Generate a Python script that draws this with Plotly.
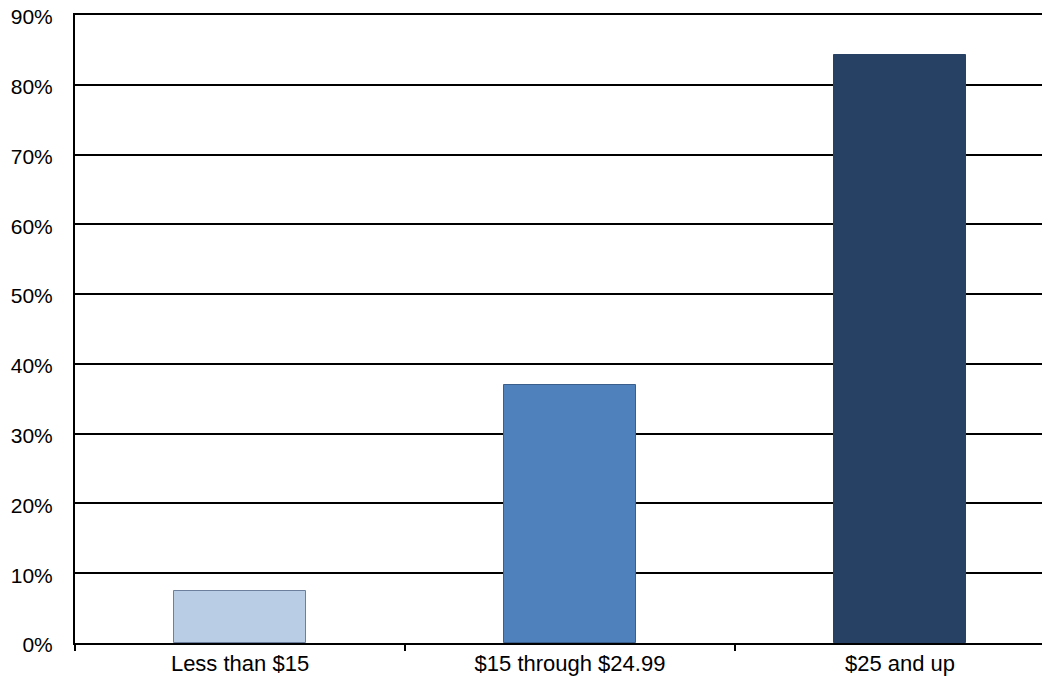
import plotly.graph_objects as go

categories = ["Less than $15", "$15 through $24.99", "$25 and up"]
values = [7.45, 37.0, 84.2]
colors = ["#b9cde5", "#4f81bd", "#264163"]
outlines = ["#6c7f9c", "#3b5f8c", "#264163"]
y_ticks = [0, 10, 20, 30, 40, 50, 60, 70, 80, 90]
y_labels = [f"{v}%" for v in y_ticks]

fig = go.Figure(go.Bar(
    x=categories,
    y=values,
    width=0.4,
    marker=dict(color=colors, line=dict(color=outlines, width=1)),
))

fig.update_layout(
    width=1042, height=674,
    margin=dict(l=67, r=0, t=7, b=39, autoexpand=False),
    plot_bgcolor="white", paper_bgcolor="white",
    showlegend=False,
    font=dict(family="Liberation Sans, Arial, sans-serif", size=21, color="black"),
    bargap=0,
)
fig.update_xaxes(
    type="category",
    range=[-0.5, -0.5 + 975 / 330],
    tickson="boundaries",
    ticks="outside", ticklen=6, tickwidth=2, tickcolor="black",
    tickfont=dict(size=22),
    showline=True, linecolor="black", linewidth=2, mirror=True,
    showgrid=False, zeroline=False,
)
fig.update_yaxes(
    range=[0, 90],
    tickmode="array", tickvals=y_ticks, ticktext=y_labels,
    tickfont=dict(size=21),
    ticklabeloverflow="allow",
    ticklabelshift=2,
    showgrid=True, gridcolor="black", gridwidth=2,
    showline=True, linecolor="black", linewidth=2,
    zeroline=False, ticks="", ticklabelstandoff=16,
)

fig.write_html("out.html")
